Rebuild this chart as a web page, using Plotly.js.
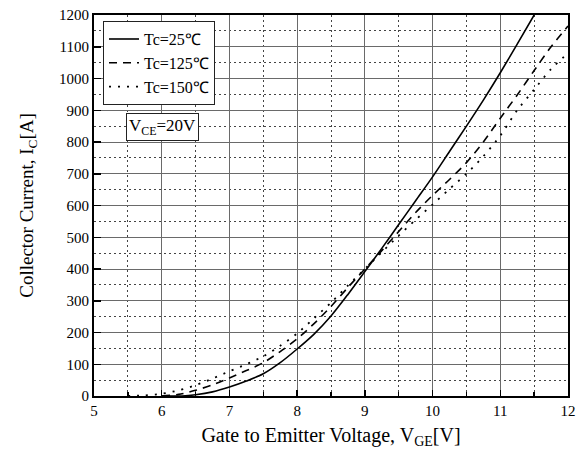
<!DOCTYPE html>
<html>
<head>
<meta charset="utf-8">
<script src="https://cdn.plot.ly/plotly-3.0.1.min.js"></script>
<style>html,body{margin:0;padding:0;background:#fff;}#chart{width:582px;height:455px;}</style>
</head>
<body>
<div id="chart"></div>
<script>
// Gate voltage (V) and collector current (A)
const vge25  = [6.0, 6.3, 6.5, 6.75, 7.0, 7.25, 7.5, 7.75, 8.0, 8.25, 8.5, 8.75, 9.0, 9.25, 9.5, 9.75, 10.0, 10.25, 10.5, 10.75, 11.0, 11.25, 11.5];
const ic25   = [0, 0, 4, 13, 28, 47, 70, 105, 148, 195, 252, 320, 392, 465, 540, 615, 690, 770, 850, 932, 1018, 1108, 1200];
const vge125 = [6.0, 6.25, 6.5, 6.75, 7.0, 7.25, 7.5, 7.75, 8.0, 8.25, 8.5, 8.75, 9.0, 9.25, 9.5, 9.75, 10.0, 10.25, 10.5, 10.75, 11.0, 11.25, 11.5, 11.75, 12.0];
const ic125  = [0, 5, 18, 35, 57, 80, 105, 140, 180, 228, 282, 342, 400, 458, 518, 578, 632, 682, 735, 800, 875, 948, 1025, 1100, 1165];
const vge150 = [5.5, 5.75, 6.0, 6.25, 6.5, 6.75, 7.0, 7.25, 7.5, 7.75, 8.0, 8.25, 8.5, 8.75, 9.0, 9.25, 9.5, 9.75, 10.0, 10.25, 10.5, 10.75, 11.0, 11.25, 11.5, 11.75, 12.0];
const ic150  = [0, 2, 7, 18, 34, 55, 78, 100, 125, 158, 197, 245, 294, 348, 400, 453, 505, 555, 603, 652, 700, 755, 820, 900, 965, 1030, 1080];
const seriesNames = ["Tc=25℃", "Tc=125℃", "Tc=150℃"];
const xTitle = "Gate to Emitter Voltage, V<sub>GE</sub>[V]";
const yTitle = "Collector Current, I<sub>C</sub>[A]";
const noteText = "V<sub>CE</sub>=20V";

const serif = "Liberation Serif, Times New Roman, serif";
const traces = [
  {x: vge25, y: ic25, name: seriesNames[0], mode: "lines", line: {color: "#000", width: 1.6, shape: "spline", smoothing: 0.8}},
  {x: vge125, y: ic125, name: seriesNames[1], mode: "lines", line: {color: "#000", width: 1.6, dash: "8px,6px", shape: "spline", smoothing: 0.8}},
  {x: vge150, y: ic150, name: seriesNames[2], mode: "lines", line: {color: "#000", width: 1.8, dash: "2px,7px", shape: "spline", smoothing: 0.8}}
];
const layout = {
  width: 582, height: 455,
  margin: {l: 94, r: 14, t: 15, b: 59},
  paper_bgcolor: "#fff", plot_bgcolor: "#fff",
  font: {family: serif, color: "#000", size: 15},
  showlegend: true,
  legend: {x: 0.019, y: 0.984, xanchor: "left", yanchor: "top", bgcolor: "#fff", bordercolor: "#222", borderwidth: 1,
           font: {family: serif, size: 16, color: "#000"}, tracegroupgap: 0, itemwidth: 30},
  xaxis: {
    range: [5, 12], dtick: 1, tick0: 5, ticks: "inside", ticklen: 6, tickcolor: "#000", tickwidth: 1.5,
    showline: true, linecolor: "#000", linewidth: 2, mirror: true, zeroline: false,
    showgrid: true, gridcolor: "#6a6a6a", gridwidth: 1,
    minor: {dtick: 0.5, showgrid: true, gridcolor: "#444", griddash: "2px,3px", gridwidth: 1, ticks: "inside", ticklen: 4, tickcolor: "#000"},
    tickfont: {family: serif, size: 15},
    title: {text: xTitle, font: {family: serif, size: 20}, standoff: 10}
  },
  yaxis: {
    range: [0, 1200], dtick: 100, ticks: "inside", ticklen: 7, tickcolor: "#000", tickwidth: 1.5,
    showline: true, linecolor: "#000", linewidth: 2, mirror: true, zeroline: false,
    showgrid: true, gridcolor: "#6a6a6a", gridwidth: 1,
    minor: {dtick: 50, showgrid: true, gridcolor: "#444", griddash: "2px,3px", gridwidth: 1},
    tickfont: {family: serif, size: 15},
    title: {text: yTitle, font: {family: serif, size: 19}, standoff: 20}
  },
  annotations: [{
    xref: "paper", yref: "paper", x: 0.145, y: 0.707, xanchor: "center", yanchor: "middle",
    text: noteText, showarrow: false, font: {family: serif, size: 17, color: "#000"},
    bgcolor: "#fff", bordercolor: "#222", borderwidth: 1, borderpad: 2
  }]
};
Plotly.newPlot("chart", traces, layout, {displayModeBar: false, staticPlot: true});
</script>
</body>
</html>
